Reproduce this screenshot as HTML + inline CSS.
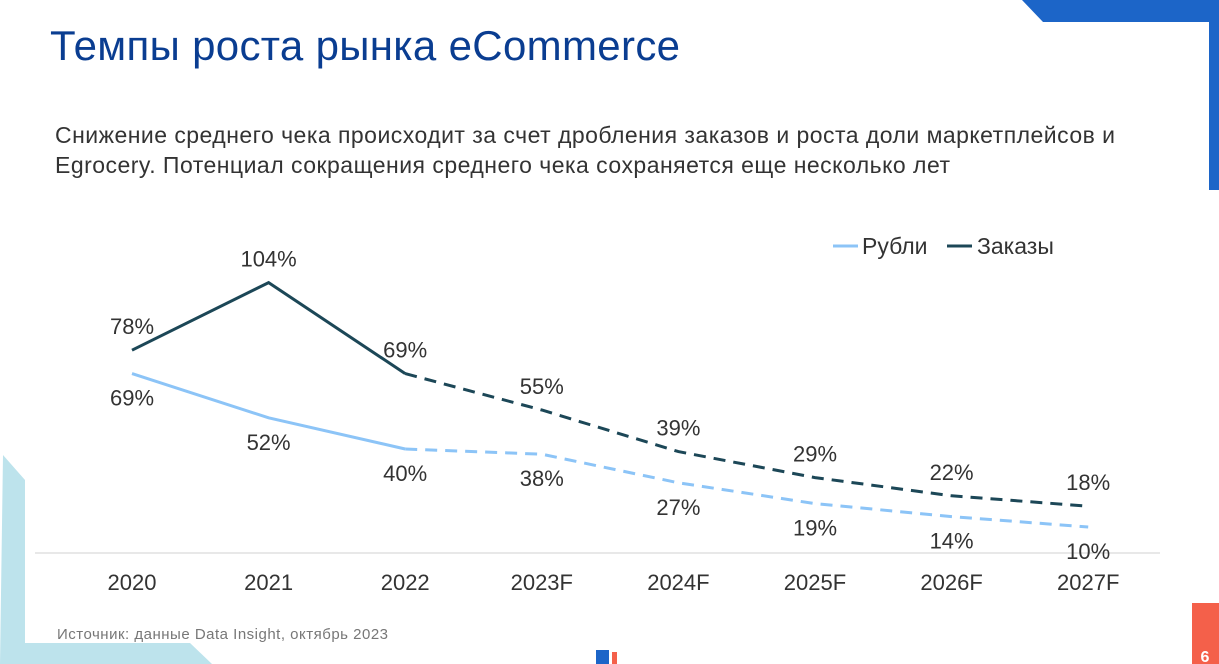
<!DOCTYPE html>
<html><head><meta charset="utf-8"><style>
body{margin:0;background:#fff;}
#w{position:relative;width:1219px;height:664px;overflow:hidden;font-family:"Liberation Sans",sans-serif;}
</style></head><body>
<div id="w">
<svg width="1219" height="664" style="position:absolute;left:0;top:0">
<polygon points="1022,0 1219,0 1219,190 1209,190 1209,22 1043,22" fill="#1c65c8"/>
<polygon points="3,455 25,480 25,643 190,643 212,664 0,664" fill="#bde3ec"/>
<rect x="1192" y="603" width="27" height="61" fill="#f4604a"/>
<text x="1205" y="662" fill="#fff" font-size="16" font-weight="bold" text-anchor="middle">6</text>
<rect x="596" y="650" width="13" height="14" fill="#1c65c8"/>
<rect x="612" y="652" width="5" height="12" fill="#f4604a"/>
<text x="50" y="60" font-size="42" fill="#0a3d91" textLength="630">Темпы роста рынка eCommerce</text>
<text x="55" y="143" font-size="23" fill="#333" textLength="1060">Снижение среднего чека происходит за счет дробления заказов и роста доли маркетплейсов и</text>
<text x="55" y="173" font-size="23" fill="#333" textLength="895">Egrocery. Потенциал сокращения среднего чека сохраняется еще несколько лет</text>
<text x="57" y="639" font-size="15" fill="#777" textLength="331">Источник: данные Data Insight, октябрь 2023</text>
<line x1="833" y1="246" x2="858" y2="246" stroke="#8cc4f7" stroke-width="3"/>
<text x="862" y="254" font-size="23" fill="#333">Рубли</text>
<line x1="947" y1="246" x2="972" y2="246" stroke="#1c4757" stroke-width="3"/>
<text x="977" y="254" font-size="23" fill="#333">Заказы</text>
<g id="chart"></g>
</svg>
</div>
<script>
const categories=["2020","2021","2022","2023F","2024F","2025F","2026F","2027F"];
const rubli=[69,52,40,38,27,19,14,10];
const orders=[78,104,69,55,39,29,22,18];
const actualCount=3;
const NS="http://www.w3.org/2000/svg";
const g=document.getElementById('chart');
const X=i=>132+i*136.6;
const Y=v=>553-v*2.6;
function mk(t,a){const e=document.createElementNS(NS,t);for(const k in a)e.setAttribute(k,a[k]);g.appendChild(e);return e;}
const ax=mk('line',{x1:35,y1:553,x2:1160,y2:553,stroke:'#e0e0e0','stroke-width':1.5});


categories.forEach((c,i)=>{const t=mk('text',{x:X(i),y:590,'font-size':22,fill:'#333','text-anchor':'middle'});t.textContent=c;

});
function series(vals,color,name,labelDy){
 const solid=vals.slice(0,actualCount).map((v,i)=>X(i)+','+Y(v)).join(' ');
 const dash=vals.slice(actualCount-1).map((v,j)=>X(j+actualCount-1)+','+Y(v)).join(' ');
 const a=mk('polyline',{points:solid,fill:'none',stroke:color,'stroke-width':3});
 
 
 const b=mk('polyline',{points:dash,fill:'none',stroke:color,'stroke-width':3,'stroke-dasharray':'12,8'});
 
 
 vals.forEach((v,i)=>{const t=mk('text',{x:X(i),y:Y(v)+labelDy,'font-size':22,fill:'#333','text-anchor':'middle'});t.textContent=v+'%';
 
 });
}
series(rubli,'#8cc4f7','rubli',32);
series(orders,'#1c4757','orders',-16);
</script>
</body></html>
